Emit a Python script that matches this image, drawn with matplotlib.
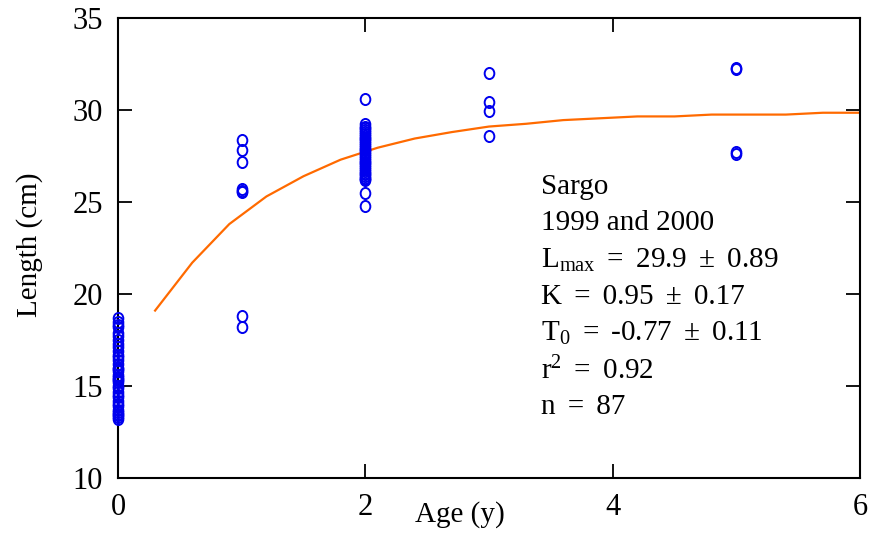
import matplotlib
matplotlib.use("Agg")
import matplotlib.pyplot as plt
from matplotlib.path import Path

# ---- data ----
age0_len = [18.7, 18.5, 18.3, 18.2, 17.9, 17.7, 17.5, 17.3, 17.1, 16.9, 16.7, 16.6,
            16.4, 16.2, 16.0, 15.9, 15.8, 15.6, 15.5, 15.4, 15.3, 15.2, 15.0, 14.9,
            14.7, 14.5, 14.4, 14.2, 14.0, 13.9, 13.7, 13.6, 13.5, 13.4, 13.3, 13.2]
age1_len = [28.35, 27.85, 27.2, 25.7, 25.6, 25.55, 18.8, 18.2]
age2_len = [30.6, 29.25, 29.1, 29.0, 28.9, 28.8, 28.7, 28.6, 28.5, 28.4, 28.3, 28.2,
            28.1, 28.0, 27.9, 27.8, 27.7, 27.6, 27.5, 27.4, 27.3, 27.2, 27.1, 27.0,
            26.9, 26.8, 26.7, 26.6, 26.5, 26.4, 26.3, 26.25, 26.2, 25.5, 24.8]
age3_len = [32.0, 30.45, 29.95, 28.6]
age5_len = [32.3, 32.25, 27.7, 27.6]
groups = [(0, age0_len), (1, age1_len), (2, age2_len), (3, age3_len), (5, age5_len)]

curve_age = [0.3, 0.6, 0.9, 1.2, 1.5, 1.8, 2.1, 2.4, 2.7, 3.0,
             3.3, 3.6, 3.9, 4.2, 4.5, 4.8, 5.1, 5.4, 5.7, 6.0]
curve_len = [19.1, 21.7, 23.8, 25.3, 26.4, 27.3, 27.95, 28.45, 28.8, 29.1,
             29.25, 29.45, 29.55, 29.65, 29.65, 29.75, 29.75, 29.75, 29.85, 29.85]

x_ticks = [0, 2, 4, 6]
y_ticks = [10, 15, 20, 25, 30, 35]

S = " \u2006"   # slightly wider gap around operators
EQ = S + "=" + S
PM = S + "±" + S
info_lines = ["Sargo",
              "1999 and 2000",
              r"L$_{\rm max}$" + EQ + "29.9" + PM + "0.89",
              "K" + EQ + "0.95" + PM + "0.17",
              r"T$_0$" + EQ + "-0.77" + PM + "0.11",
              r"r$^2$" + EQ + "0.92",
              "n" + EQ + "87"]

# ---- style ----
plt.rcParams['font.family'] = ['Liberation Serif', 'DejaVu Serif']
plt.rcParams['mathtext.fontset'] = 'custom'
plt.rcParams['mathtext.rm'] = 'Liberation Serif'
plt.rcParams['mathtext.it'] = 'Liberation Serif:italic'
plt.rcParams['mathtext.bf'] = 'Liberation Serif:bold'

# slightly tall open-ellipse marker
uc = Path.unit_circle()
ellipse = Path(uc.vertices * [0.87, 1.0], uc.codes)

fig = plt.figure(figsize=(8.74, 5.35), dpi=100)
ax = fig.add_axes([0.135, 0.1065, 0.849, 0.8599])

for a, vals in groups:
    ax.plot([a] * len(vals), vals, linestyle='none', marker=ellipse, markersize=8,
            markerfacecolor='none', markeredgecolor='#0000ee', markeredgewidth=1.4,
            clip_on=False, zorder=3)

ax.plot(curve_age, curve_len, color='#ff6a00', linewidth=1.6, zorder=2)

ax.set_xlim(0, 6)
ax.set_ylim(10, 35)
ax.set_xticks(x_ticks)
ax.set_yticks(y_ticks)
ax.tick_params(direction='in', length=10, width=1.3, labelsize=22,
               top=True, right=True, pad=11)
for s in ax.spines.values():
    s.set_linewidth(1.5)

ax.set_xlabel('Age (y)', fontsize=21)
ax.xaxis.set_label_coords(0.461, -0.080)
ax.xaxis.label.set_va('center')
ax.set_ylabel('Length (cm)', fontsize=21)
ax.yaxis.set_label_coords(-0.1186, 0.5065)
ax.yaxis.label.set_va('center')

y0 = 25.84
for i, line in enumerate(info_lines):
    ax.text(3.42, y0 - 2.0 * i, line, fontsize=21, ha='left', va='center')

fig.savefig('out.png', dpi=100)
